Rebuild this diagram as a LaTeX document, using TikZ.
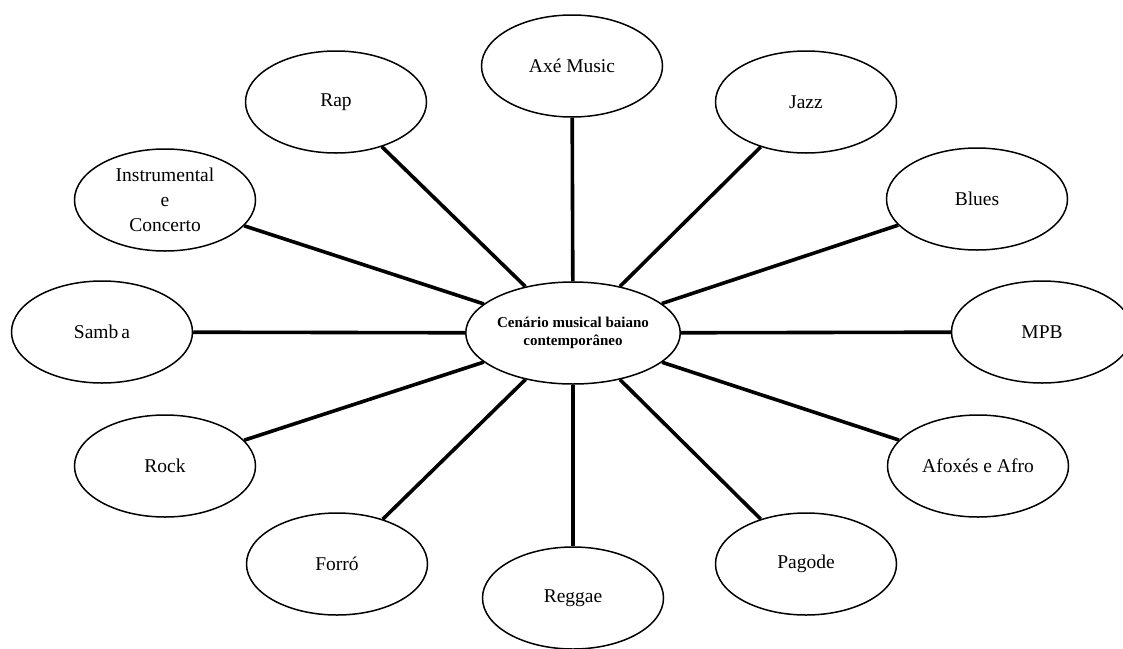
\documentclass[tikz,border=0pt]{standalone}
\usepackage{fontspec}
\setmainfont{Liberation Serif}
\usetikzlibrary{shapes.geometric}
\begin{document}
\begin{tikzpicture}[x=1pt,y=-1pt,
  genre/.style={ellipse, draw, fill=white, line width=1.5pt,
    minimum width=181pt, minimum height=102pt, inner sep=0pt,
    align=center, font=\fontsize{19.5}{25}\selectfont},
  hub/.style={genre, font=\bfseries\fontsize{15}{18}\selectfont},
  link/.style={line width=3.6pt}]
\useasboundingbox (0,0) rectangle (1123,648);
\clip (0,0) rectangle (1123,648);

% hub
\node[hub] (hub) at (573,333) {Cenário musical baiano\\contemporâneo};

% genres around the hub
\node[genre] (axe)    at (572,66)  {Axé Music};
\node[genre] (jazz)   at (806,102) {Jazz};
\node[genre] (blues)  at (977,199) {Blues};
\node[genre] (mpb)    at (1042,332) {MPB};
\node[genre] (afro)   at (978,466) {Afoxés e Afro};
\node[genre] (pagode) at (806,564) {Pagode};
\node[genre] (reggae) at (573,598) {Reggae};
\node[genre] (forro)  at (337,564) {Forró};
\node[genre] (rock)   at (165,466) {Rock};
\node[genre] (samba)  at (102,332) {Samb\kern3pt a};
\node[genre] (instr)  at (165,200) {Instrumental\\e\\Concerto};
\node[genre] (rap)    at (336,102) {Rap};

% spokes
\foreach \g in {axe,jazz,blues,mpb,afro,pagode,reggae,forro,rock,samba,instr,rap}
  \draw[link] (hub) -- (\g);
\end{tikzpicture}
\end{document}
